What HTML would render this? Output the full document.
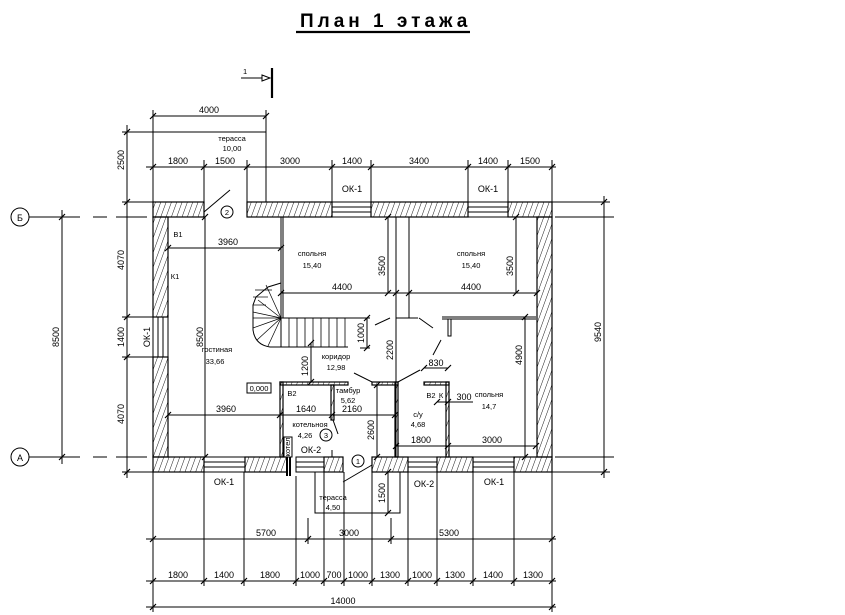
<!DOCTYPE html>
<html><head><meta charset="utf-8"><style>
html,body{margin:0;padding:0;background:#fff}
svg{display:block}
text{font-family:"Liberation Sans",sans-serif;fill:#000}
.d{font-size:9px;font-family:"Liberation Sans Narrow","Liberation Sans",sans-serif}
.s{font-size:7.5px}
</style></head><body>
<svg width="845" height="615" viewBox="0 0 845 615" xmlns="http://www.w3.org/2000/svg">
<defs>
<pattern id="h" width="5" height="5" patternUnits="userSpaceOnUse" patternTransform="rotate(20)">
<line x1="0" y1="0" x2="0" y2="5" stroke="#000" stroke-width="0.9"/>
</pattern>
</defs>
<g stroke="#000" fill="none" stroke-width="1">
<line x1="296" y1="32" x2="470" y2="32" stroke-width="2.2"/>
<line x1="272" y1="68" x2="272" y2="98" stroke-width="2.2"/>
<line x1="241" y1="78" x2="262" y2="78"/>
<path d="M262,75 L270,78 L262,81 Z"/>

<g fill="url(#h)" stroke-width="1.2">
<rect x="153" y="202" width="51" height="15"/>
<rect x="247" y="202" width="85" height="15"/>
<rect x="371" y="202" width="97" height="15"/>
<rect x="508" y="202" width="44" height="15"/>
<rect x="153" y="217" width="15" height="100"/>
<rect x="153" y="357" width="15" height="100"/>
<rect x="537" y="217" width="15" height="240"/>
<rect x="153" y="457" width="51" height="15"/>
<rect x="245" y="457" width="42" height="15"/>
<rect x="324" y="457" width="19" height="15"/>
<rect x="372" y="457" width="36" height="15"/>
<rect x="437" y="457" width="36" height="15"/>
<rect x="514" y="457" width="38" height="15"/>
<rect x="280" y="382" width="3" height="75"/>
<rect x="280" y="382" width="68" height="3"/>
<rect x="331" y="385" width="3" height="35"/>
<rect x="395" y="382" width="3" height="75"/>
<rect x="372" y="382" width="26" height="3"/>
<rect x="446" y="382" width="3" height="75"/>
<rect x="424" y="382" width="25" height="3"/>
</g>
<g>
<rect x="332" y="202" width="39" height="15"/><line x1="332" y1="207" x2="371" y2="207"/><line x1="332" y1="212" x2="371" y2="212"/>
<rect x="468" y="202" width="40" height="15"/><line x1="468" y1="207" x2="508" y2="207"/><line x1="468" y1="212" x2="508" y2="212"/>
<rect x="153" y="317" width="15" height="40"/><line x1="158" y1="317" x2="158" y2="357"/><line x1="163" y1="317" x2="163" y2="357"/>
<rect x="204" y="457" width="41" height="15"/><line x1="204" y1="462" x2="245" y2="462"/><line x1="204" y1="467" x2="245" y2="467"/>
<rect x="296" y="457" width="28" height="15"/><line x1="296" y1="462" x2="324" y2="462"/><line x1="296" y1="467" x2="324" y2="467"/>
<rect x="408" y="457" width="29" height="15"/><line x1="408" y1="462" x2="437" y2="462"/><line x1="408" y1="467" x2="437" y2="467"/>
<rect x="473" y="457" width="41" height="15"/><line x1="473" y1="462" x2="514" y2="462"/><line x1="473" y1="467" x2="514" y2="467"/>
</g>
<line x1="287" y1="457" x2="287" y2="476" stroke-width="2"/><line x1="290" y1="457" x2="290" y2="476" stroke-width="2"/>
<rect x="284" y="437" width="8" height="20"/>
<line x1="281" y1="217" x2="281" y2="318"/>
<line x1="283" y1="217" x2="283" y2="318"/>
<line x1="281" y1="318" x2="370" y2="318"/>
<line x1="396" y1="217" x2="396" y2="457"/>
<line x1="409" y1="217" x2="409" y2="318"/>
<line x1="396" y1="318" x2="418" y2="318"/>
<line x1="442" y1="317" x2="536" y2="317"/>
<line x1="442" y1="319" x2="536" y2="319"/>
<rect x="448" y="319" width="3" height="17"/>
<line x1="332" y1="450" x2="332" y2="457"/>
<line x1="204" y1="212" x2="230" y2="190"/>
<line x1="375" y1="325" x2="390" y2="318"/>
<line x1="419" y1="318" x2="433" y2="328"/>
<line x1="441" y1="340" x2="433" y2="355"/>
<line x1="354" y1="373" x2="372" y2="382"/>
<line x1="398" y1="382" x2="420" y2="370"/>
<line x1="333" y1="420" x2="338" y2="434"/>
<line x1="343" y1="482" x2="372" y2="465"/>
<line x1="281" y1="347" x2="348" y2="347"/>
<line x1="281" y1="318" x2="281" y2="347"/>
<g stroke-width="0.8">
<line x1="289" y1="318" x2="289" y2="347"/><line x1="297" y1="318" x2="297" y2="347"/><line x1="305" y1="318" x2="305" y2="347"/><line x1="313" y1="318" x2="313" y2="347"/><line x1="321" y1="318" x2="321" y2="347"/><line x1="329" y1="318" x2="329" y2="347"/><line x1="337" y1="318" x2="337" y2="347"/><line x1="345" y1="318" x2="345" y2="347"/>
</g>
<path d="M281,283 L268,287 L256,297 L253,305 L253,330 Q255,345 270,347 L281,347"/>
<g stroke-width="0.7">
<line x1="281" y1="318" x2="266" y2="285"/><line x1="281" y1="318" x2="258" y2="300"/><line x1="281" y1="318" x2="253" y2="312"/><line x1="253" y1="318" x2="281" y2="318"/><line x1="281" y1="318" x2="253" y2="328"/><line x1="281" y1="318" x2="257" y2="340"/><line x1="281" y1="318" x2="268" y2="346"/>
<line x1="253" y1="305" x2="266" y2="305"/><line x1="253" y1="297" x2="268" y2="297"/><line x1="255" y1="290" x2="272" y2="290"/>
</g>
<polyline points="153,202 153,132 266,132 266,202"/>
<polyline points="315,472 315,513 400,513 400,472"/>
<circle cx="20" cy="217" r="9"/><circle cx="20" cy="457" r="9"/>
<path d="M29,217 H80 M93,217 H107 M116,217 H147 M555,217 H614"/>
<path d="M29,457 H80 M93,457 H107 M116,457 H147 M555,457 H614"/>
<circle cx="227" cy="212" r="6"/><circle cx="358" cy="461" r="6"/><circle cx="326" cy="435" r="6"/>
<line x1="153" y1="116" x2="266" y2="116"/>
<line x1="146" y1="167" x2="556" y2="167"/>
<line x1="146" y1="539" x2="556" y2="539"/>
<line x1="146" y1="581" x2="556" y2="581"/>
<line x1="146" y1="607" x2="556" y2="607"/>
<line x1="127" y1="125" x2="127" y2="478"/>
<line x1="62" y1="210" x2="62" y2="464"/>
<line x1="604" y1="196" x2="604" y2="478"/>
<line x1="122" y1="132" x2="153" y2="132"/>
<line x1="122" y1="202" x2="153" y2="202"/>
<line x1="122" y1="317" x2="153" y2="317"/>
<line x1="122" y1="357" x2="153" y2="357"/>
<line x1="122" y1="472" x2="153" y2="472"/>
<line x1="552" y1="202" x2="610" y2="202"/>
<line x1="552" y1="472" x2="610" y2="472"/>
<path d="M153,110 V132 M266,110 V132 M153,160 V202 M204,160 V202 M247,160 V202 M332,160 V202 M371,160 V202 M468,160 V202 M508,160 V202 M552,160 V202"/>
<path d="M153,472 V612 M552,472 V612 M204,472 V586 M244,472 V586 M296,476 V586 M324,472 V586 M344,472 V586 M372,472 V586 M408,472 V586 M437,472 V586 M473,472 V586 M514,472 V586 M308,518 V544 M391,518 V544"/>
<line x1="168" y1="248" x2="281" y2="248"/>
<line x1="281" y1="293" x2="537" y2="293"/>
<line x1="388" y1="217" x2="388" y2="293"/>
<line x1="516" y1="217" x2="516" y2="293"/>
<line x1="367" y1="318" x2="367" y2="348"/><line x1="360" y1="348" x2="370" y2="348"/>
<line x1="205" y1="217" x2="205" y2="457"/>
<line x1="311" y1="343" x2="311" y2="382"/>
<line x1="168" y1="415" x2="395" y2="415"/>
<line x1="377" y1="385" x2="377" y2="457"/>
<line x1="424" y1="368" x2="448" y2="368"/>
<line x1="437" y1="402" x2="473" y2="402"/>
<line x1="396" y1="446" x2="536" y2="446"/>
<line x1="525" y1="317" x2="525" y2="457"/>
<line x1="388" y1="472" x2="388" y2="513"/>
<g stroke-width="1.2">
<path d="M150,119 l6,-6 M263,119 l6,-6
M150,170 l6,-6 M201,170 l6,-6 M244,170 l6,-6 M329,170 l6,-6 M368,170 l6,-6 M465,170 l6,-6 M505,170 l6,-6 M549,170 l6,-6
M150,542 l6,-6 M305,542 l6,-6 M388,542 l6,-6 M549,542 l6,-6
M150,584 l6,-6 M201,584 l6,-6 M241,584 l6,-6 M293,584 l6,-6 M321,584 l6,-6 M341,584 l6,-6 M369,584 l6,-6 M405,584 l6,-6 M434,584 l6,-6 M470,584 l6,-6 M511,584 l6,-6 M549,584 l6,-6
M150,610 l6,-6 M549,610 l6,-6
M124,135 l6,-6 M124,205 l6,-6 M124,320 l6,-6 M124,360 l6,-6 M124,475 l6,-6
M59,220 l6,-6 M59,460 l6,-6 M601,205 l6,-6 M601,475 l6,-6
M165,251 l6,-6 M278,251 l6,-6 M278,296 l6,-6 M393,296 l6,-6 M406,296 l6,-6 M534,296 l6,-6
M385,220 l6,-6 M385,296 l6,-6 M513,220 l6,-6 M513,296 l6,-6
M364,321 l6,-6 M364,351 l6,-6 M202,220 l6,-6 M202,460 l6,-6 M308,346 l6,-6 M308,385 l6,-6
M165,418 l6,-6 M277,418 l6,-6 M329,418 l6,-6 M392,418 l6,-6
M374,388 l6,-6 M374,460 l6,-6 M421,371 l6,-6 M445,371 l6,-6 M434,405 l6,-6 M445,405 l6,-6
M393,449 l6,-6 M445,449 l6,-6 M533,449 l6,-6 M522,320 l6,-6 M522,460 l6,-6 M385,475 l6,-6 M385,516 l6,-6"/>
</g>
<rect x="247" y="383" width="24" height="10"/>
</g>

<text x="300" y="27" style="font-size:19px;font-weight:bold;letter-spacing:4px">План 1 этажа</text>
<text x="243" y="74" class="s">1</text>
<g class="d" text-anchor="middle">
<text x="209" y="113">4000</text>
<text x="232" y="141" class="s">терасса</text><text x="232" y="151" class="s">10,00</text>
<text x="178" y="164">1800</text><text x="225" y="164">1500</text><text x="290" y="164">3000</text><text x="352" y="164">1400</text><text x="419" y="164">3400</text><text x="488" y="164">1400</text><text x="530" y="164">1500</text>
<text x="352" y="192">ОК-1</text><text x="488" y="192">ОК-1</text>
<text x="20" y="221">Б</text><text x="20" y="461">А</text>
<text x="227" y="215" class="s">2</text><text x="358" y="464" class="s">1</text><text x="326" y="438" class="s">3</text>
<text x="228" y="245">3960</text>
<text x="312" y="256" class="s">спольня</text><text x="312" y="268" class="s">15,40</text>
<text x="471" y="256" class="s">спольня</text><text x="471" y="268" class="s">15,40</text>
<text x="342" y="290">4400</text><text x="471" y="290">4400</text>
<text x="217" y="352" class="s">гостиная</text><text x="215" y="364" class="s">33,66</text>
<text x="336" y="359" class="s">коридор</text><text x="336" y="370" class="s">12,98</text>
<text x="259" y="391" class="s">0,000</text>
<text x="348" y="393" class="s">тамбур</text><text x="348" y="403" class="s">5,62</text>
<text x="226" y="412">3960</text><text x="306" y="412">1640</text><text x="352" y="412">2160</text>
<text x="310" y="427" class="s">котельноя</text><text x="305" y="438" class="s">4,26</text>
<text x="311" y="453">ОК-2</text>
<text x="418" y="417" class="s">с/у</text><text x="418" y="427" class="s">4,68</text>
<text x="436" y="366">830</text><text x="464" y="400">300</text>
<text x="489" y="397" class="s">спольня</text><text x="489" y="409" class="s">14,7</text>
<text x="421" y="443">1800</text><text x="492" y="443">3000</text>
<text x="224" y="485">ОК-1</text><text x="424" y="487">ОК-2</text><text x="494" y="485">ОК-1</text>
<text x="333" y="500" class="s">терасса</text><text x="333" y="510" class="s">4,50</text>
<text x="266" y="536">5700</text><text x="349" y="536">3000</text><text x="449" y="536">5300</text>
<text x="178" y="578">1800</text><text x="224" y="578">1400</text><text x="270" y="578">1800</text><text x="310" y="578">1000</text><text x="334" y="578">700</text><text x="358" y="578">1000</text><text x="390" y="578">1300</text><text x="422" y="578">1000</text><text x="455" y="578">1300</text><text x="493" y="578">1400</text><text x="533" y="578">1300</text>
<text x="343" y="604">14000</text>
<text x="178" y="237" class="s">В1</text><text x="175" y="279" class="s">К1</text><text x="292" y="396" class="s">В2</text>
<text x="431" y="398" class="s">В2</text><text x="441" y="398" class="s">К</text>
</g>
<g class="d" text-anchor="middle">
<text transform="translate(124,160) rotate(-90)">2500</text>
<text transform="translate(124,260) rotate(-90)">4070</text>
<text transform="translate(124,337) rotate(-90)">1400</text>
<text transform="translate(124,414) rotate(-90)">4070</text>
<text transform="translate(59,337) rotate(-90)">8500</text>
<text transform="translate(150,337) rotate(-90)">ОК-1</text>
<text transform="translate(601,332) rotate(-90)">9540</text>
<text transform="translate(203,337) rotate(-90)">8500</text>
<text transform="translate(385,266) rotate(-90)">3500</text>
<text transform="translate(513,266) rotate(-90)">3500</text>
<text transform="translate(364,333) rotate(-90)">1000</text>
<text transform="translate(393,350) rotate(-90)">2200</text>
<text transform="translate(308,366) rotate(-90)">1200</text>
<text transform="translate(374,430) rotate(-90)">2600</text>
<text transform="translate(522,355) rotate(-90)">4900</text>
<text transform="translate(385,493) rotate(-90)">1500</text>
<text transform="translate(290,447) rotate(-90)" class="s">котел</text>
</g>
</svg>
</body></html>
